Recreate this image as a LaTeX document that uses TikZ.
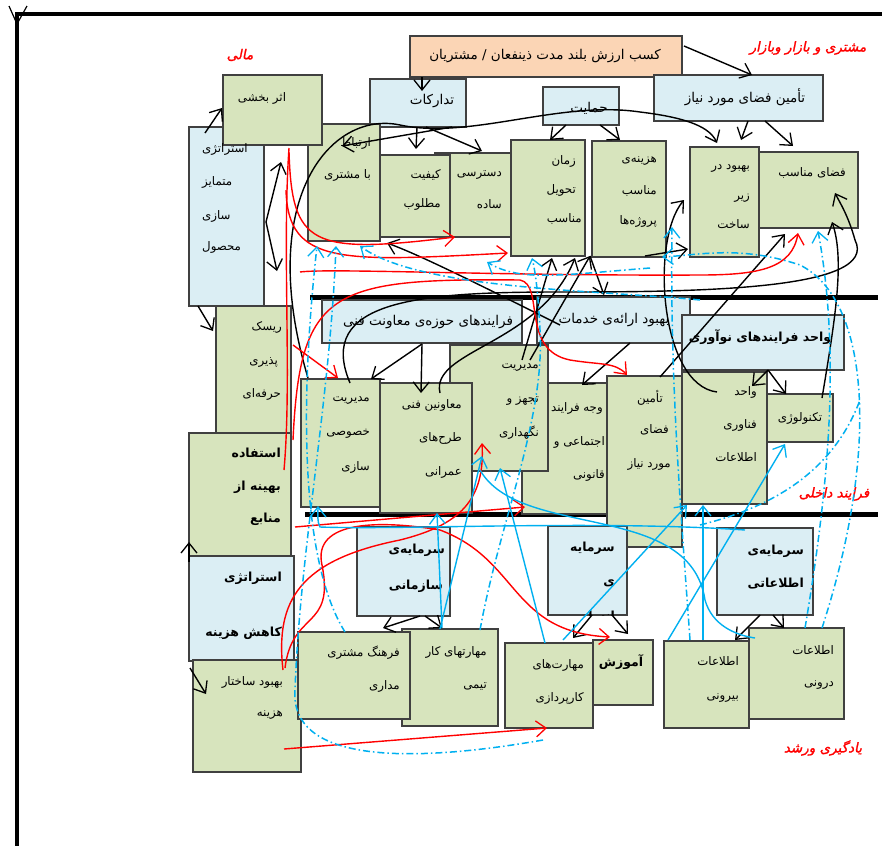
\documentclass[tikz,border=0pt]{standalone}
\usepackage{fontspec}
\usetikzlibrary{arrows.meta}
\TeXXeTstate=1
\newfontfamily\fa[Script=Arabic]{DejaVu Sans}
\newfontfamily\faR[Script=Arabic,FakeSlant=0.2,FakeBold=1.5]{DejaVu Sans}
\definecolor{gbox}{HTML}{D7E4BD}
\definecolor{bbox}{HTML}{DBEEF4}
\definecolor{obox}{HTML}{FBD5B5}
\definecolor{sky}{HTML}{00B0F0}
\newcommand\Rbox[6]{\node[#6, anchor=north west, minimum width={#4-#2}, minimum height={#5-#3}] (#1) at (#2,#3) {};}
\newcommand\Rt[5][txt]{\node[#1, anchor=#4] (#2) at (#3) {#5};}
\newcommand\ZW{^^^^200c}
\tikzset{
  boxbase/.style={draw=black!75, line width=1.3pt, inner sep=0pt, outer sep=0pt},
  gb/.style={boxbase, fill=gbox},
  bb/.style={boxbase, fill=bbox},
  ob/.style={boxbase, fill=obox},
  txt/.style={inner sep=0pt, font=\fa\fontsize{11.8}{13}\selectfont, text=black},
  txtb/.style={txt, font=\fa\fontsize{12.5}{14}\selectfont\bfseries},
  txtl/.style={txt, font=\fa\fontsize{13.5}{15}\selectfont},
  lbl/.style={inner sep=0pt, font=\faR\fontsize{13.5}{15}\selectfont, text=red},
  head/.style={-{Straight Barb[length=10pt,width=16pt,line width=1.3pt]}},
  blk/.style={draw=black, line width=1.4pt},
  rd/.style={draw=red, line width=1.4pt},
  bl/.style={draw=sky, line width=1.4pt},
  dd/.style={draw=sky, line width=1.5pt, dash pattern=on 7pt off 3pt on 1.5pt off 3pt},
}
\begin{document}
\begin{tikzpicture}[x=1pt,y=-1pt]
\useasboundingbox (0,0) rectangle (882,846);
\fill[white] (0,0) rectangle (882,846);
% frame
\coordinate (fTL) at (17,14); \coordinate (fTR) at (882,14); \coordinate (fBL) at (17,846);
\draw[line width=4pt] (fTR) -- (fTL) -- (fBL);
\coordinate (v1) at (9,6); \coordinate (v2) at (17,24); \coordinate (v3) at (27,6);
\draw[line width=1.2pt] (v1) -- (v2) -- (v3);
% separators
\coordinate (s1a) at (310,297); \coordinate (s1b) at (878,297);
\coordinate (s2a) at (305,514); \coordinate (s2b) at (878,514);
\draw[line width=5pt] (s1a) -- (s1b);
\draw[line width=5pt] (s2a) -- (s2b);

% ---------- boxes ----------
\Rbox{kasb}{410}{36}{682}{77}{ob}
\Rbox{tadarokat}{370}{79}{466}{127}{bb}
\Rbox{hemayat}{543}{87}{619}{125}{bb}
\Rbox{tamin}{654}{75}{823}{121}{bb}
\Rbox{motamayez}{189}{127}{264}{306}{bb}
\Rbox{ertebat}{308}{124}{380}{241}{gb}
\Rbox{asar}{223}{75}{322}{145}{gb}
\Rbox{dastresi}{435}{153}{511}{237}{gb}
\Rbox{keyfiyat}{380}{155}{450}{237}{gb}
\Rbox{zaman}{511}{140}{585}{256}{gb}
\Rbox{hazine}{592}{141}{666}{257}{gb}
\Rbox{behbud}{690}{147}{759}{257}{gb}
\Rbox{fazamonaseb}{759}{152}{858}{228}{gb}
\Rbox{risk}{216}{306}{291}{433}{gb}
\Rbox{estefade}{189}{433}{291}{556}{gb}
\Rbox{kahesh}{189}{556}{294}{661}{bb}
\Rbox{sakhtar}{193}{660}{301}{772}{gb}
\Rbox{faravand}{322}{300}{522}{343}{bb}
\Rbox{erae}{537}{297}{690}{343}{bb}
\Rbox{noavari}{682}{315}{844}{370}{bb}
\Rbox{khosusi}{301}{379}{380}{507}{gb}
\Rbox{vajh}{522}{383}{617}{514}{gb}
\Rbox{tajhiz}{450}{345}{548}{471}{gb}
\Rbox{moavenin}{380}{383}{472}{513}{gb}
\Rbox{taminmid}{607}{376}{682}{547}{gb}
\Rbox{fanavari}{682}{372}{767}{504}{gb}
\Rbox{technology}{767}{394}{833}{442}{gb}
\Rbox{sazmani}{357}{527}{450}{616}{bb}
\Rbox{ensani}{548}{526}{627}{615}{bb}
\Rbox{etelaati}{717}{528}{813}{615}{bb}
\Rbox{karteami}{402}{629}{498}{726}{gb}
\Rbox{farhang}{298}{632}{410}{719}{gb}
\Rbox{amuzesh}{593}{640}{653}{705}{gb}
\Rbox{karpardazi}{505}{643}{593}{728}{gb}
\Rbox{darooni}{749}{628}{844}{719}{gb}
\Rbox{biruni}{664}{641}{749}{728}{gb}

% ---------- texts ----------
\Rt[txtl]{t01}{545,56}{center}{\beginR کسب ارزش بلند مدت ذینفعان / مشتریان\endR}
\Rt[txtl]{t02}{432,101}{center}{\beginR تدارکات\endR}
\Rt[txtl]{t03}{589,108}{center}{\beginR حمایت\endR}
\Rt[txtl]{t04}{745,97}{center}{\beginR تأمین فضای مورد نیاز\endR}
\Rt{t05}{262,98}{center}{\beginR اثر بخشی\endR}
\Rt{t06}{202,149}{west}{\beginR استراتژی\endR}
\Rt{t07}{202,182}{west}{\beginR متمایز\endR}
\Rt{t08}{202,216}{west}{\beginR سازی\endR}
\Rt{t09}{202,247}{west}{\beginR محصول\endR}
\Rt{t10}{371,143}{east}{\beginR ارتباط\endR}
\Rt{t11}{371,175}{east}{\beginR با مشتری\endR}
\Rt{t12}{441,175}{east}{\beginR کیفیت\endR}
\Rt{t13}{441,204}{east}{\beginR مطلوب\endR}
\Rt{t14}{502,175}{east}{\beginR دسترسی\endR}
\Rt{t15}{502,204}{east}{\beginR ساده\endR}
\Rt{t16}{576,161}{east}{\beginR زمان\endR}
\Rt{t17}{576,190}{east}{\beginR تحویل\endR}
\Rt{t18}{582,219}{east}{\beginR مناسب\endR}
\Rt{t19}{657,161}{east}{\beginR هزینه\ZW ی\endR}
\Rt{t20}{657,191}{east}{\beginR مناسب\endR}
\Rt{t21}{657,221}{east}{\beginR پروژه\ZW ها\endR}
\Rt{t22}{750,168}{east}{\beginR بهبود  در\endR}
\Rt{t23}{750,198}{east}{\beginR زیر\endR}
\Rt{t24}{750,224}{east}{\beginR ساخت\endR}
\Rt{t25}{812,173}{center}{\beginR فضای مناسب\endR}
\Rt{t26}{282,327}{east}{\beginR ریسک\endR}
\Rt{t27}{278,362}{east}{\beginR پذیری\endR}
\Rt{t28}{281,394}{east}{\beginR حرفه\ZW ای\endR}
\Rt[txtb]{t29}{281,453}{east}{\beginR استفاده\endR}
\Rt[txtb]{t30}{281,487}{east}{\beginR بهینه از\endR}
\Rt[txtb]{t31}{281,519}{east}{\beginR منابع\endR}
\Rt[txtb]{t32}{282,578}{east}{\beginR استراتژی\endR}
\Rt[txtb]{t33}{282,633}{east}{\beginR کاهش هزینه\endR}
\Rt{t34}{283,682}{east}{\beginR بهبود ساختار\endR}
\Rt{t35}{283,715}{east}{\beginR هزینه\endR}
\Rt[txtl]{t36}{428,322}{center}{\beginR فرایندهای حوزه\ZW ی معاونت فنی\endR}
\Rt[txtl]{t37}{614,320}{center}{\beginR بهبود ارائه\ZW ی خدمات\endR}
\Rt[txtb]{t38}{760,337}{center}{\beginR واحد فرایندهای  نوآوری\endR}
\Rt{t39}{370,400}{east}{\beginR مدیریت\endR}
\Rt{t40}{370,434}{east}{\beginR خصوصی\endR}
\Rt{t41}{370,467}{east}{\beginR سازی\endR}
\Rt{t42}{462,405}{east}{\beginR معاونین فنی\endR}
\Rt{t43}{462,438}{east}{\beginR طرح\ZW های\endR}
\Rt{t44}{462,472}{east}{\beginR عمرانی\endR}
\Rt{t45}{539,367}{east}{\beginR مدیریت\endR}
\Rt{t46}{539,401}{east}{\beginR تجهز و\endR}
\Rt{t47}{539,433}{east}{\beginR نگهداری\endR}
\Rt{t48}{551,408}{west}{\beginR وجه فرایند\endR}
\Rt{t49}{605,442}{east}{\beginR اجتماعی و\endR}
\Rt{t50}{605,475}{east}{\beginR قانونی\endR}
\Rt{t51}{663,398}{east}{\beginR تأمین\endR}
\Rt{t52}{669,430}{east}{\beginR فضای\endR}
\Rt{t53}{671,464}{east}{\beginR مورد نیاز\endR}
\Rt{t54}{757,392}{east}{\beginR واحد\endR}
\Rt{t55}{757,425}{east}{\beginR فناوری\endR}
\Rt{t56}{757,457}{east}{\beginR اطلاعات\endR}
\Rt{t57}{800,418}{center}{\beginR تکنولوژی\endR}
\Rt[txtb]{t58}{445,550}{east}{\beginR سرمایه\ZW ی\endR}
\Rt[txtb]{t59}{443,586}{east}{\beginR سازمانی\endR}
\Rt[txtb]{t60}{615,548}{east}{\beginR سرمایه\endR}
\Rt[txtb]{t61}{615,583}{east}{\beginR ی\endR}
\begin{scope}
\clip (ensani.north west) rectangle (ensani.south east);
\Rt[txtb]{t61b}{615,617}{east}{\beginR انسانی\endR}
\end{scope}
\Rt[txtb]{t62}{804,551}{east}{\beginR سرمایه\ZW ی\endR}
\Rt[txtb]{t63}{804,584}{east}{\beginR اطلاعاتی\endR}
\Rt{t64}{400,653}{east}{\beginR فرهنگ مشتری\endR}
\Rt{t65}{400,686}{east}{\beginR مداری\endR}
\Rt{t66}{487,652}{east}{\beginR مهارتهای کار\endR}
\Rt{t67}{487,686}{east}{\beginR تیمی\endR}
\Rt{t68}{584,665}{east}{\beginR مهارت\ZW های\endR}
\Rt{t69}{584,698}{east}{\beginR کارپردازی\endR}
\Rt[txtb]{t70}{621,662}{center}{\beginR آموزش\endR}
\Rt{t71}{739,661}{east}{\beginR اطلاعات\endR}
\Rt{t72}{739,698}{east}{\beginR بیرونی\endR}
\Rt{t73}{834,650}{east}{\beginR اطلاعات\endR}
\Rt{t74}{834,685}{east}{\beginR درونی\endR}
% red labels
\Rt[lbl]{l1}{240,55}{center}{\beginR مالی\endR}
\Rt[lbl]{l2}{808,48}{center}{\beginR مشتری و بازار وبازار\endR}
\Rt[lbl]{l3}{834,494}{center}{\beginR فرایند داخلی\endR}
\Rt[lbl]{l4}{823,748}{center}{\beginR یادگیری ورشد\endR}

% ---------- connector end points ----------
\foreach \n/\a/\b in {
 k1a/422/77, k1b/422/91, k2a/684/46, k2b/752/75, k3a/417/127, k3b/416/149,
 k4a/426/127, k4b/482/151, k5a/452/127, k5b/342/146, k6a/566/125, k6b/550/140,
 k7a/600/125, k7b/620/140, k8a/748/121, k8b/741/140, k9a/765/121, k9b/793/146,
 k10a/308/378, k10b/717/143, k11a/522/360, k11b/552/258, k12a/530/360, k12b/590/256,
 k13b/604/295, k14a/630/343, k14b/582/385, k15a/422/344, k15b/421/393, k16b/371/379,
 k17a/560/325, k17b/387/243, k18a/440/393, k18b/575/258, k19a/660/377, k19b/785/234,
 k20a/645/256, k20b/688/249, k21a/717/392, k21b/684/200, k22a/822/398, k22b/832/222,
 k23a/350/383, k23b/835/193, k24a/768/370, k24b/752/386, k25b/786/394,
 k26a/420/616, k26b/383/628, k27a/425/616, k27b/442/628, k28a/592/615, k28b/573/638,
 k29a/612/615, k29b/628/634, k30a/760/615, k30b/735/640, k31a/773/615, k31b/784/628,
 k32a/205/133, k32b/222/108, k33a/198/306, k33b/213/331, k34a/266/222, k34b/281/162,
 k34c/277/271, k35a/189/562, k35b/189/542, k36a/190/668, k36b/206/694,
 r1a/284/470, r1b/289/148, r2a/289/152, r2b/455/237, r3a/286/190, r3b/508/253,
 r4a/293/440, r4b/627/375, r5a/293/345, r5b/338/378, r6a/300/272, r6b/798/233,
 r7a/295/527, r7b/525/507, r8a/283/670, r8b/482/443, r9a/285/668, r9b/610/637,
 r10a/284/749, r10b/547/728,
 b1a/345/632, b1b/317/246, b2a/543/740, b2b/336/246, b3a/480/630, b3b/532/258,
 b4a/700/300, b4b/360/246, b5a/650/268, b5b/487/262, b6a/805/628, b6b/818/231,
 b7a/822/628, b7b/662/257, b8a/690/640, b8b/672/227, b9a/700/525, b9b/860/400,
 u1a/668/640, u1b/785/444, u2a/703/640, u2b/703/505, u3a/563/640, u3b/687/505,
 u4a/440/629, u4b/482/456, u5a/545/643, u5b/500/468, u6a/442/628, u6b/437/513,
 u7a/745/530, u7b/318/506, u8a/480/470, u8b/755/638}
 {\coordinate (\n) at (\a,\b);}

% ---------- black connectors ----------
\draw[blk,head] (k1a) -- (k1b);
\draw[blk,head] (k2a) -- (k2b);
\draw[blk,head] (k3a) -- (k3b);
\draw[blk,head] (k4a) -- (k4b);
\draw[blk,head] (k5a) -- (k5b);
\draw[blk,head] (k6a) -- (k6b);
\draw[blk,head] (k7a) -- (k7b);
\draw[blk,head] (k8a) -- (k8b);
\draw[blk,head] (k9a) -- (k9b);
\draw[blk,head] (k10a) .. controls (255,200) and (330,110) .. (400,125) .. controls (470,140) and (560,100) .. (640,112) .. controls (690,118) and (710,128) .. (k10b);
\draw[blk,head] (k11a) -- (k11b);
\draw[blk,head] (k12a) -- (k12b);
\draw[blk,head] (k12b) -- (k13b);
\draw[blk,head] (k14a) -- (k14b);
\draw[blk,head] (k15a) -- (k15b);
\draw[blk,head] (k15a) -- (k16b);
\draw[blk,head] (k17a) .. controls (480,285) and (420,255) .. (k17b);
\draw[blk,head] (k18a) .. controls (430,350) and (540,345) .. (k18b);
\draw[blk,head] (k19a) -- (k19b);
\draw[blk,head] (k20a) -- (k20b);
\draw[blk,head] (k21a) .. controls (660,385) and (650,240) .. (k21b);
\draw[blk,head] (k22a) .. controls (835,320) and (845,260) .. (k22b);
\draw[blk,head] (k23a) .. controls (315,300) and (420,292) .. (560,292) .. controls (700,292) and (880,290) .. (855,240) .. controls (848,215) and (840,203) .. (k23b);
\draw[blk,head] (k24a) -- (k24b);
\draw[blk,head] (k24a) -- (k25b);
\draw[blk,head] (k26a) -- (k26b);
\draw[blk,head] (k27a) -- (k27b);
\draw[blk,head] (k28a) -- (k28b);
\draw[blk,head] (k29a) -- (k29b);
\draw[blk,head] (k30a) -- (k30b);
\draw[blk,head] (k31a) -- (k31b);
\draw[blk,head] (k32a) -- (k32b);
\draw[blk,head] (k33a) -- (k33b);
\draw[blk,head] (k34a) -- (k34b);
\draw[blk,head] (k34a) -- (k34c);
\draw[blk,head] (k35a) -- (k35b);
\draw[blk,head] (k36a) -- (k36b);

% ---------- red connectors ----------
\draw[rd] (r1a) .. controls (292,380) and (282,250) .. (r1b);
\draw[rd,head] (r2a) .. controls (292,245) and (310,255) .. (r2b);
\draw[rd,head] (r3a) .. controls (288,265) and (340,262) .. (r3b);
\draw[rd,head] (r4a) .. controls (300,290) and (330,278) .. (520,280) .. controls (545,285) and (520,350) .. (570,360) .. controls (600,365) and (615,362) .. (r4b);
\draw[rd,head] (r5a) -- (r5b);
\draw[rd,head] (r6a) .. controls (330,268) and (500,276) .. (700,275) .. controls (760,275) and (792,268) .. (r6b);
\draw[rd,head] (r7a) -- (r7b);
\draw[rd,head] (r8a) .. controls (275,600) and (300,560) .. (400,540) .. controls (460,525) and (485,500) .. (r8b);
\draw[rd,head] (r9a) .. controls (292,610) and (335,630) .. (322,565) .. controls (312,520) and (380,520) .. (440,530) .. controls (520,560) and (510,632) .. (r9b);
\draw[rd,head] (r10a) -- (r10b);

% ---------- blue dash-dot connectors ----------
\draw[dd,head] (b1a) .. controls (300,560) and (300,400) .. (b1b);
\draw[dd,head] (b2a) .. controls (400,765) and (290,760) .. (295,690) .. controls (300,550) and (330,400) .. (b2b);
\draw[dd,head] (b3a) .. controls (500,520) and (545,420) .. (540,330) .. controls (538,290) and (535,270) .. (b3b);
\draw[dd,head] (b4a) .. controls (600,290) and (420,290) .. (b4b);
\draw[dd,head] (b5a) .. controls (560,275) and (520,282) .. (b5b);
\draw[dd,head] (b6a) .. controls (830,480) and (840,350) .. (b6b);
\draw[dd,head] (b7a) .. controls (880,450) and (870,300) .. (800,265) .. controls (740,245) and (700,255) .. (b7b);
\draw[dd,head] (b8a) .. controls (680,500) and (670,380) .. (b8b);
\draw[dd] (b9a) .. controls (760,510) and (830,480) .. (b9b);

% ---------- blue solid connectors ----------
\draw[bl,head] (u1a) -- (u1b);
\draw[bl,head] (u2a) -- (u2b);
\draw[bl,head] (u3a) -- (u3b);
\draw[bl,head] (u4a) -- (u4b);
\draw[bl,head] (u5a) -- (u5b);
\draw[bl,head] (u6a) -- (u6b);
\draw[bl,head] (u7a) .. controls (600,520) and (400,530) .. (320,527) .. controls (317,522) and (318,514) .. (u7b);
\draw[bl] (u8a) .. controls (520,540) and (690,500) .. (705,600) .. controls (712,625) and (735,635) .. (u8b);
\end{tikzpicture}
\end{document}
